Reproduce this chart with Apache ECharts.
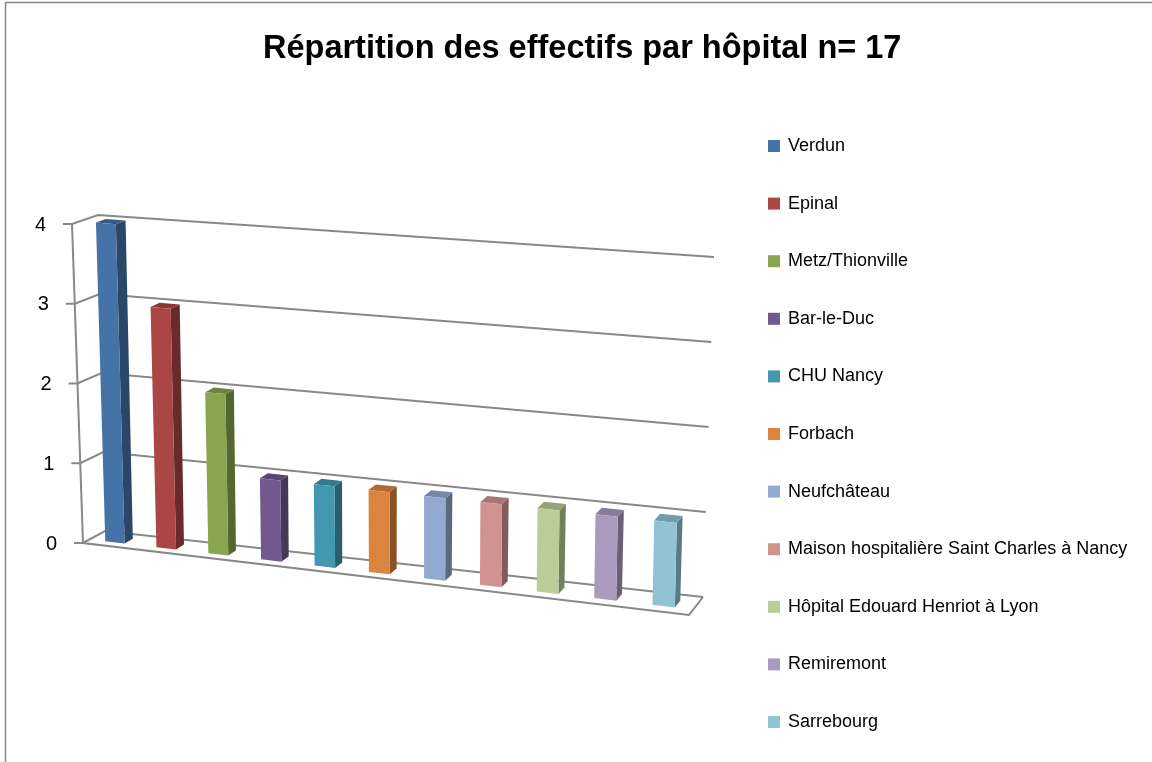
<!DOCTYPE html>
<html>
<head>
<meta charset="utf-8">
<script src="https://cdn.jsdelivr.net/npm/echarts@6/dist/echarts.min.js"></script>
<style>
html, body { margin: 0; padding: 0; background: #fff; }
#chart { width: 1152px; height: 762px; }
</style>
</head>
<body>
<div id="chart"></div>
<script>
var hopitaux = ['Verdun', 'Epinal', 'Metz/Thionville', 'Bar-le-Duc', 'CHU Nancy', 'Forbach', 'Neufchâteau',
    'Maison hospitalière Saint Charles à Nancy', 'Hôpital Edouard Henriot à Lyon', 'Remiremont', 'Sarrebourg'];
var effectifs = [4, 3, 2, 1, 1, 1, 1, 1, 1, 1, 1];
var couleurs = ['#4572A7', '#AA4643', '#89A54E', '#71588F', '#4198AF', '#DB843D', '#93A9CF',
    '#D19392', '#B9CD96', '#A99BBD', '#92C3D5'];
var graduations = [0, 1, 2, 3, 4];

// coins des plans avant et arriere pour la perspective (g = gauche, d = droite, 0 = bas, 1 = haut)
var avant = {g0: [83, 543], g1: [72, 224], d0: [689, 615], d1: [696, 277]};
var arriere = {g0: [105, 531], g1: [98, 215], d0: [703, 597], d1: [714, 257]};
var fuite = 0.08; // ecarts plus grands vers la droite
var gris = '#888888';

function lerp(a, b, k) {
    return [a[0] + (b[0] - a[0]) * k, a[1] + (b[1] - a[1]) * k];
}
function plan(p, u, t) {
    u = u + fuite * u * (u - 1);
    return lerp(lerp(p.g0, p.g1, t), lerp(p.d0, p.d1, t), u);
}
function proj(u, t, w) {
    return lerp(plan(avant, u, t), plan(arriere, u, t), w);
}
function assombrir(hex, k) {
    var c = echarts.color.parse(hex);
    return 'rgb(' + Math.round(c[0] * k) + ',' + Math.round(c[1] * k) + ',' + Math.round(c[2] * k) + ')';
}

function rendBarre(params, api) {
    var cs = params.coordSys;
    var haut = api.coord([api.value(0), api.value(1)]);
    var bas = api.coord([api.value(0), 0]);
    var demi = api.size([1, 0])[0] * 0.19;
    var u0 = (haut[0] - demi - cs.x) / cs.width;
    var u1 = (haut[0] + demi - cs.x) / cs.width;
    var t1 = (cs.y + cs.height - haut[1]) / cs.height;
    var t0 = (cs.y + cs.height - bas[1]) / cs.height;
    var w0 = 0.3, w1 = 0.68;
    var c = api.visual('color');
    var face = [proj(u0, t0, w0), proj(u1, t0, w0), proj(u1, t1, w0), proj(u0, t1, w0)];
    var cote = [proj(u1, t0, w0), proj(u1, t0, w1), proj(u1, t1, w1), proj(u1, t1, w0)];
    var dessus = [proj(u0, t1, w0), proj(u1, t1, w0), proj(u1, t1, w1), proj(u0, t1, w1)];
    return {
        type: 'group',
        children: [
            {type: 'polygon', shape: {points: cote}, style: {fill: assombrir(c, 0.62)}},
            {type: 'polygon', shape: {points: dessus}, style: {fill: assombrir(c, 0.8)}},
            {type: 'polygon', shape: {points: face}, style: {fill: c}}
        ]
    };
}

function rendGrille(params, api) {
    var cs = params.coordSys;
    var y = api.coord([0, api.value(1)])[1];
    var t = (cs.y + cs.height - y) / cs.height;
    var a = proj(0, t, 0), b = proj(0, t, 1), d = proj(1, t, 1);
    var enfants = [
        {type: 'polyline', shape: {points: [[a[0] - 9, a[1]], a, b, d]},
            style: {stroke: gris, lineWidth: 2, fill: null}},
        {type: 'text', style: {text: String(api.value(1)), x: a[0] - 26, y: a[1] + 1,
            align: 'right', verticalAlign: 'middle', font: '20px "Liberation Sans"', fill: '#000'}}
    ];
    if (params.dataIndex === 0) {
        enfants.push({type: 'polyline',
            shape: {points: [proj(0, 1, 0), proj(0, 0, 0), proj(1, 0, 0), proj(1, 0, 1)]},
            style: {stroke: gris, lineWidth: 2, fill: null}});
    }
    return {type: 'group', children: enfants};
}

var series = [{
    name: 'grille',
    type: 'custom',
    renderItem: rendGrille,
    silent: true,
    z: 1,
    data: graduations.map(function (v) { return [0, v]; })
}];
for (var i = 0; i < hopitaux.length; i++) {
    series.push({
        name: hopitaux[i],
        type: 'custom',
        renderItem: rendBarre,
        z: 2,
        itemStyle: {color: couleurs[i]},
        data: [[i, effectifs[i]]]
    });
}

var myChart = echarts.init(document.getElementById('chart'));
myChart.setOption({
    animation: false,
    backgroundColor: '#fff',
    title: {
        text: 'Répartition des effectifs par hôpital n= 17',
        left: 258,
        top: 28,
        textStyle: {fontFamily: 'Liberation Sans', fontWeight: 'bold', fontSize: 32.5, color: '#000'}
    },
    graphic: [{
        type: 'rect',
        shape: {x: 5.5, y: 2.5, width: 1200, height: 800},
        style: {fill: null, stroke: gris, lineWidth: 1.5},
        silent: true
    }],
    legend: {
        orient: 'vertical',
        left: 763,
        top: 132,
        itemWidth: 12,
        itemHeight: 12,
        itemGap: 39.6,
        icon: 'rect',
        selectedMode: false,
        data: hopitaux,
        textStyle: {fontFamily: 'Liberation Sans', fontSize: 18, color: '#000', padding: [0, 0, 0, 3]}
    },
    grid: {left: 72, top: 224, width: 642, height: 319},
    xAxis: {type: 'category', data: hopitaux, show: false},
    yAxis: {type: 'value', min: 0, max: 4, interval: 1, show: false},
    series: series
});
</script>
</body>
</html>
